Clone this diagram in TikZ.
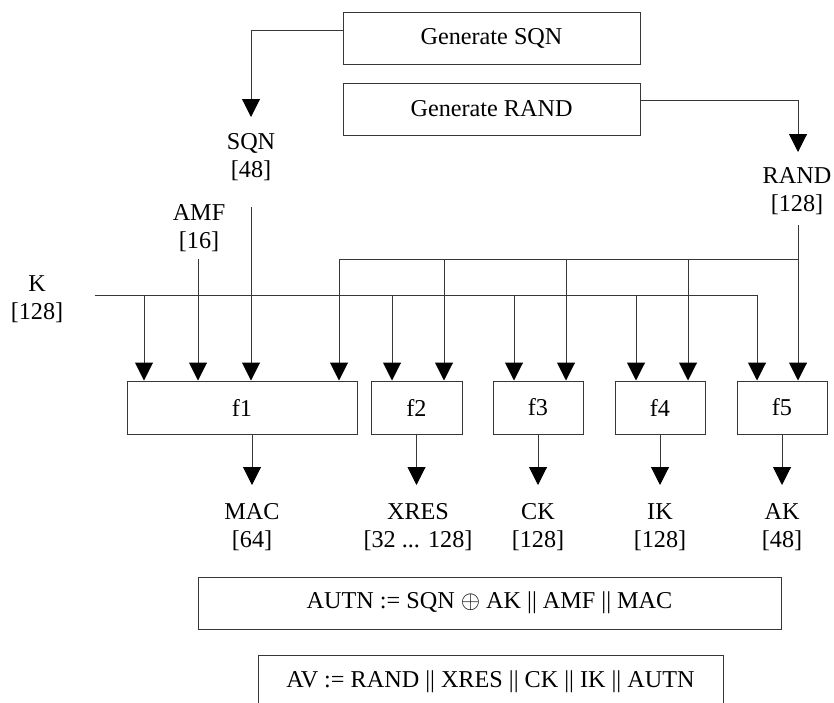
\documentclass[tikz,border=0pt]{standalone}
\usepackage{fontspec}
\setmainfont{Liberation Serif}
\usetikzlibrary{arrows.meta}
\definecolor{linecol}{RGB}{55,55,55}
\begin{document}
\begin{tikzpicture}[x=1pt,y=-1pt,
  every node/.style={font=\fontsize{24.2}{28.5}\selectfont, text=black},
  box/.style={draw=linecol, line width=1pt, inner sep=0pt, minimum height=52pt},
  lbl/.style={align=center, inner sep=0pt},
  wire/.style={draw=linecol, line width=1pt},
  arr/.style={wire, -{Triangle[length=18pt,width=18pt,color=black]}}]
\clip (0,0) rectangle (834,702);
\fill[white] (0,0) rectangle (834,702);

% generator boxes
\node[box, minimum width=297pt] (gsqn) at (491.5,38) {Generate SQN};
\node[box, minimum width=297pt] (grand) at (491.5,109) {Generate RAND};

% function boxes
\node[box, minimum width=230pt, minimum height=53pt] (f1) at (242,407.5) {f1};
\node[box, minimum width=91pt, minimum height=53pt] (f2) at (416.5,407.5) {f2};
\node[box, minimum width=90pt, minimum height=53pt] (f3) at (538,407.5) {f3};
\node[box, minimum width=90pt, minimum height=53pt] (f4) at (660,407.5) {f4};
\node[box, minimum width=90pt, minimum height=53pt] (f5) at (782,407.5) {f5};

% input labels
\node[lbl] (sqnl) at (251,157) {SQN\\{}[48]};
\node[lbl] (randl) at (797,191) {RAND\\{}[128]};
\node[lbl] (amfl) at (199,228) {AMF\\{}[16]};
\node[lbl] (kl) at (37,299) {K\\{}[128]};

% output labels
\node[lbl] (macl) at (252,527) {MAC\\{}[64]};
\node[lbl] (xresl) at (418,527) {XRES\\{}[32 ... 128]};
\node[lbl] (ckl) at (538,527) {CK\\{}[128]};
\node[lbl] (ikl) at (660,527) {IK\\{}[128]};
\node[lbl] (akl) at (782,527) {AK\\{}[48]};

% result boxes
\node[box, minimum width=583pt] (autn) at (489.5,603) {AUTN := SQN $\oplus$ AK || AMF || MAC};
\node[box, minimum width=465pt, minimum height=54pt] (av) at (490.5,682) {AV := RAND || XRES || CK || IK || AUTN};

% coordinates
\coordinate (sqntip) at (251,117);
\coordinate (randtip) at (798,152);
\coordinate (sqntop) at (251,207);
\coordinate (randtop) at (798,225);
\coordinate (amftop) at (198,259);
\coordinate (kw) at (95,295);
\coordinate (k1) at (144,295);
\coordinate (k2) at (392,295);
\coordinate (k3) at (514,295);
\coordinate (k4) at (636,295);
\coordinate (k5) at (757,295);
\coordinate (r1) at (339,259);
\coordinate (r2) at (444,259);
\coordinate (r3) at (566,259);
\coordinate (r4) at (688,259);
\coordinate (r5) at (798,259);
\coordinate (otip) at (0,485);

% generator outputs
\draw[arr] ([yshift=8pt]gsqn.west) -| (sqntip);
\draw[arr] ([yshift=9pt]grand.east) -| (randtip);

% buses
\draw[wire] (kw) -- (k5);
\draw[wire] (r1) -- (r5);
\draw[wire] (randtop) -- (r5);

% inputs to f1
\draw[arr] (k1) -- (k1 |- f1.north);
\draw[arr] (amftop) -- (amftop |- f1.north);
\draw[arr] (sqntop) -- (sqntop |- f1.north);
\draw[arr] (r1) -- (r1 |- f1.north);
% inputs to f2..f5
\draw[arr] (k2) -- (k2 |- f2.north);
\draw[arr] (r2) -- (r2 |- f2.north);
\draw[arr] (k3) -- (k3 |- f3.north);
\draw[arr] (r3) -- (r3 |- f3.north);
\draw[arr] (k4) -- (k4 |- f4.north);
\draw[arr] (r4) -- (r4 |- f4.north);
\draw[arr] (k5) -- (k5 |- f5.north);
\draw[arr] (r5) -- (r5 |- f5.north);

% outputs
\draw[arr] (macl.north |- f1.south) -- (macl.north |- otip);
\draw[arr] (f2.south) -- (f2.south |- otip);
\draw[arr] (f3.south) -- (f3.south |- otip);
\draw[arr] (f4.south) -- (f4.south |- otip);
\draw[arr] (f5.south) -- (f5.south |- otip);
\end{tikzpicture}
\end{document}
